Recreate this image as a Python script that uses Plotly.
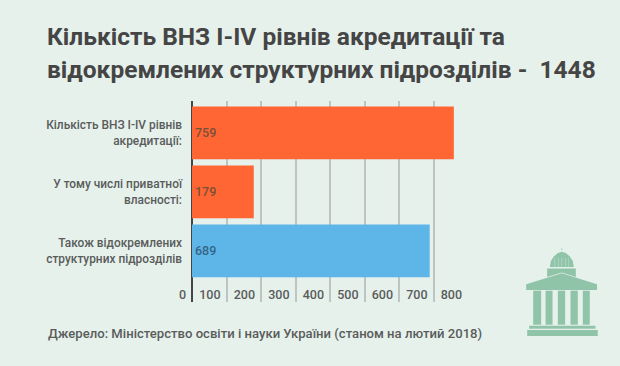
import plotly.graph_objects as go

categories = ["Кількість ВНЗ І-IV рівнів<br>акредитації:", "У тому числі приватної<br>власності:", "Також відокремлених<br>структурних підрозділів"]
values = [759, 179, 689]
bar_colors = ["#FF6633", "#FF6633", "#5DB5E8"]
label_colors = ["#7A4F3A", "#7A4F3A", "#356586"]
tick_values = [0, 100, 200, 300, 400, 500, 600, 700, 800]
title_lines = ["Кількість ВНЗ І-IV рівнів акредитації та", "відокремлених структурних підрозділів -\u00a0 1448"]
source = "Джерело: Міністерство освіти і науки України (станом на лютий 2018)"

W, H = 620, 366
L, R, T, B = 191.5, 468.0, 101.0, 302.0
BG = "#E6F1EC"
TXT = "#454545"
SOFT = "#5A5C5B"
GREEN = "#8FC4A8"
FONT = "Roboto"

def px(x): return (x - L) / (R - L)
def py(y): return (B - y) / (B - T)

def poly(pts):
    return "M" + " L".join(f"{px(x):.5f},{py(y):.5f}" for x, y in pts) + " Z"

def rect(x0, y0, x1, y1, color=GREEN):
    return dict(type="rect", xref="paper", yref="paper", x0=px(x0), x1=px(x1), y0=py(y0), y1=py(y1),
                fillcolor=color, line_width=0, layer="above")

shapes = [rect(527.3, 330, 598, 336), rect(529.3, 325.7, 595.7, 328.7)]
for a, b in [(533.3, 541.3), (545.7, 552.7), (558, 565.3), (570.7, 578), (583, 590)]:
    shapes.append(rect(a, 290.7, b, 324.7))
shapes.append(dict(type="path", xref="paper", yref="paper", fillcolor=GREEN, line_width=0,
                   path=poly([(526.3, 284.3), (562, 273.3), (597.3, 284.3), (597.3, 290), (526.3, 290)])))
shapes.append(dict(type="path", xref="paper", yref="paper", fillcolor=GREEN, line_width=0,
                   path=poly([(547.3, 277), (547.3, 268.5), (576, 268.5), (576, 277), (562, 272.5)])))
shapes.append(dict(type="path", xref="paper", yref="paper", fillcolor=GREEN, line_width=0,
                   path=poly([(550, 267), (551, 261), (554, 256.5), (558, 253), (562, 251.8), (566, 253),
                              (570, 256.5), (573, 261), (574, 267)])))
shapes.append(rect(561.5, 248.5, 562.5, 250))
for x in (555, 558.5, 562, 565.5, 569):
    shapes.append(rect(x - 0.35, 258, x + 0.35, 266.5, "#BCDCCB"))

annotations = [
    dict(text=title_lines[0], x=px(44), y=py(36.5), xref="paper", yref="paper", xanchor="left", yanchor="middle",
         showarrow=False, font=dict(family=FONT, size=24.5, color=TXT, weight=700)),
    dict(text=title_lines[1], x=px(44), y=py(70), xref="paper", yref="paper", xanchor="left", yanchor="middle",
         showarrow=False, font=dict(family=FONT, size=24.5, color=TXT, weight=700)),
    dict(text=source, x=px(45), y=py(333), xref="paper", yref="paper", xanchor="left", yanchor="middle",
         showarrow=False, font=dict(family=FONT, size=13.1, color=SOFT, weight=500)),
    dict(text=str(tick_values[0]), x=tick_values[0], xref="x", xshift=-4, y=py(294), yref="paper",
         xanchor="right", yanchor="middle", showarrow=False,
         font=dict(family=FONT, size=12.5, color=SOFT, weight=500)),
]

fig = go.Figure(go.Bar(
    x=values, y=categories, orientation="h", marker=dict(color=bar_colors, line_width=0),
    text=values, textposition="inside", insidetextanchor="start", textangle=0,
    textfont=dict(family=FONT, size=12.5, color=label_colors, weight=500), hoverinfo="skip",
))
fig.update_layout(
    width=W, height=H, autosize=False, showlegend=False, paper_bgcolor=BG, plot_bgcolor=BG,
    margin=dict(l=L, r=W - R, t=T, b=H - B, pad=0), bargap=0.107,
    shapes=shapes, annotations=annotations, font=dict(family=FONT, color=TXT),
)
fig.update_xaxes(range=[0, 800], tickvals=tick_values, ticklabelposition="inside left", showgrid=True,
                 gridcolor="#BDC4C1", gridwidth=1.5, zeroline=True, zerolinecolor="#454545", zerolinewidth=2,
                 showline=False, ticks="", ticklabelshift=-6, ticklabelstandoff=-5,
                 tickfont=dict(family=FONT, size=12.5, color=SOFT, weight=500))
fig.update_yaxes(range=[2.864, -0.54], showgrid=False, zeroline=False, showline=False, ticks="", ticklen=0,
                 ticklabelstandoff=9, tickfont=dict(family=FONT, size=11.9, color=SOFT, weight=500))
fig.write_html("out.html", config=dict(displayModeBar=False),
               post_script="document.body.style.margin='0';document.body.style.background='" + BG + "';")
